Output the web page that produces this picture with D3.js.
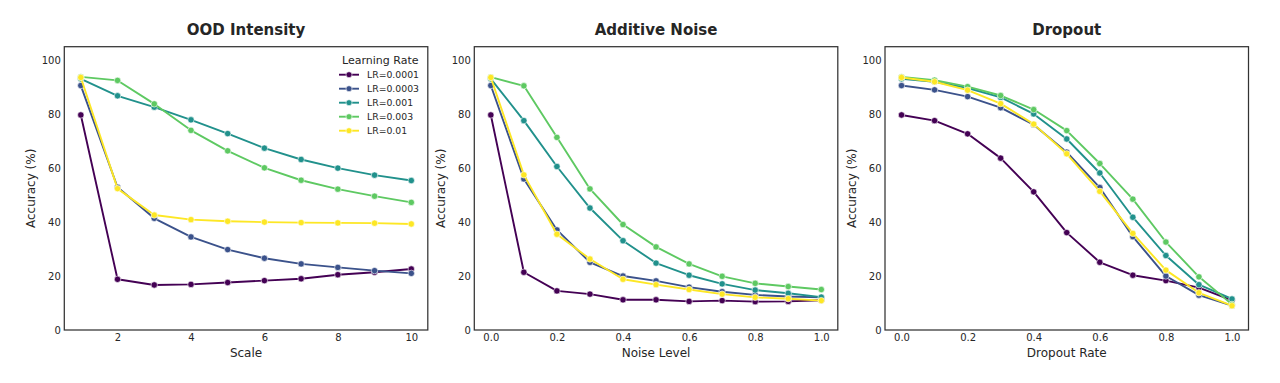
<!DOCTYPE html>
<html><head><meta charset="utf-8">
<script src="https://cdn.jsdelivr.net/npm/d3@7"></script>
<style>body{margin:0;background:#fff}svg{display:block;font-family:"DejaVu Sans",sans-serif}</style>
</head><body><svg id="c" width="1280" height="383"></svg>
<script>
const seriesLabels = ["LR=0.0001","LR=0.0003","LR=0.001","LR=0.003","LR=0.01"];
const seriesColors = ["#440154","#3b528b","#21918c","#5ec962","#fde725"];

const scaleX = [1,2,3,4,5,6,7,8,9,10];
const oodLR0001 = [79.7,18.8,16.7,16.9,17.6,18.3,19.0,20.5,21.4,22.6];
const oodLR0003 = [90.6,52.9,41.4,34.5,29.8,26.6,24.5,23.2,22.0,21.0];
const oodLR001  = [93.1,86.8,82.6,77.9,72.8,67.4,63.2,60.0,57.4,55.4];
const oodLR003  = [93.8,92.5,83.8,74.0,66.4,60.1,55.5,52.2,49.6,47.3];
const oodLR01   = [93.6,52.4,42.6,40.9,40.3,40.0,39.8,39.7,39.6,39.3];

const noiseX = [0.0,0.1,0.2,0.3,0.4,0.5,0.6,0.7,0.8,0.9,1.0];
const noiseLR0001 = [79.7,21.4,14.5,13.3,11.2,11.2,10.6,10.9,10.5,10.6,11.0];
const noiseLR0003 = [90.6,56.0,37.1,25.1,20.0,18.2,15.9,14.2,13.0,12.4,12.1];
const noiseLR001  = [93.1,77.6,60.6,45.2,33.1,24.8,20.3,17.1,14.8,13.6,12.2];
const noiseLR003  = [93.7,90.5,71.4,52.3,39.1,30.8,24.5,19.9,17.3,16.1,15.0];
const noiseLR01   = [93.6,57.5,35.5,26.3,18.8,16.8,15.0,13.3,12.1,11.6,10.9];

const dropX = [0.0,0.1,0.2,0.3,0.4,0.5,0.6,0.7,0.8,0.9,1.0];
const dropLR0001 = [79.7,77.6,72.7,63.7,51.2,36.1,25.1,20.3,18.3,15.7,11.0];
const dropLR0003 = [90.6,89.0,86.5,82.4,76.1,65.9,52.8,34.6,20.0,12.9,9.0];
const dropLR001  = [93.1,92.0,89.7,86.2,80.1,70.8,58.2,41.8,27.6,16.8,11.5];
const dropLR003  = [93.8,92.6,90.2,86.9,81.7,73.9,61.7,48.5,32.6,19.7,9.5];
const dropLR01   = [93.6,92.0,88.9,83.9,76.3,65.3,51.4,35.8,22.2,13.8,9.0];

const yTicks = [0,20,40,60,80,100];
const scaleTicks = [2,4,6,8,10];
const rateTicks = [0.0,0.2,0.4,0.6,0.8,1.0];

const panels = [
  {title:"OOD Intensity", xlabel:"Scale", x:scaleX, ys:[oodLR0001,oodLR0003,oodLR001,oodLR003,oodLR01], ticks:scaleTicks, fmt:d=>String(d), left:64.3, legend:true},
  {title:"Additive Noise", xlabel:"Noise Level", x:noiseX, ys:[noiseLR0001,noiseLR0003,noiseLR001,noiseLR003,noiseLR01], ticks:rateTicks, fmt:d3.format(".1f"), left:474.3, legend:false},
  {title:"Dropout", xlabel:"Dropout Rate", x:dropX, ys:[dropLR0001,dropLR0003,dropLR001,dropLR003,dropLR01], ticks:rateTicks, fmt:d3.format(".1f"), left:885, legend:false}
];

const svg = d3.select("#c");
const W = 363.5, plotTop = 46.7, plotBottom = 330;
const txt = "#262626";

panels.forEach(p => {
  const ext = d3.extent(p.x), pad = (ext[1]-ext[0])*0.05;
  const x = d3.scaleLinear().domain([ext[0]-pad, ext[1]+pad]).range([p.left, p.left+W]);
  const y = d3.scaleLinear().domain([0,105]).range([plotBottom, plotTop]);
  const g = svg.append("g");

  const ya = g.append("g").attr("transform",`translate(${p.left},0)`)
    .call(d3.axisLeft(y).tickValues(yTicks).tickSize(0).tickPadding(3.5));
  ya.select(".domain").remove();
  ya.selectAll("text").attr("font-size",10).attr("fill",txt).attr("font-family","DejaVu Sans");

  const xa = g.append("g").attr("transform",`translate(0,${plotBottom})`)
    .call(d3.axisBottom(x).tickValues(p.ticks).tickFormat(p.fmt).tickSize(0).tickPadding(3.5));
  xa.select(".domain").remove();
  xa.selectAll("text").attr("font-size",10).attr("fill",txt).attr("font-family","DejaVu Sans");

  const line = d3.line().x((d,i)=>x(p.x[i])).y(d=>y(d));
  p.ys.forEach((vals, si) => {
    g.append("path").datum(vals).attr("d", line).attr("fill","none")
      .attr("stroke", seriesColors[si]).attr("stroke-width",1.9).attr("stroke-linejoin","round");
    g.selectAll(null).data(vals).enter().append("circle")
      .attr("cx",(d,i)=>x(p.x[i])).attr("cy",d=>y(d)).attr("r",3.2)
      .attr("fill",seriesColors[si]).attr("stroke","#fff").attr("stroke-width",0.6);
  });

  g.append("rect").attr("x",p.left).attr("y",plotTop).attr("width",W).attr("height",plotBottom-plotTop)
    .attr("fill","none").attr("stroke","#333").attr("stroke-width",1.25);

  g.append("text").attr("x",p.left+W/2).attr("y",35).attr("text-anchor","middle")
    .attr("font-size",15).attr("font-weight","bold").attr("fill",txt).text(p.title);
  g.append("text").attr("x",p.left+W/2).attr("y",357).attr("text-anchor","middle")
    .attr("font-size",12).attr("fill",txt).text(p.xlabel);
  g.append("text").attr("transform",`translate(${p.left-33.3},${(plotTop+plotBottom)/2}) rotate(-90)`)
    .attr("dy","0.35em").attr("text-anchor","middle").attr("font-size",12).attr("fill",txt).text("Accuracy (%)");

  if (p.legend) {
    const lg = g.append("g");
    lg.append("text").attr("x",418.5).attr("y",64).attr("text-anchor","end")
      .attr("font-size",11).attr("fill",txt).text("Learning Rate");
    seriesLabels.forEach((lab, si) => {
      const yy = 74.7 + si*14;
      lg.append("line").attr("x1",339).attr("x2",359).attr("y1",yy).attr("y2",yy)
        .attr("stroke",seriesColors[si]).attr("stroke-width",1.9);
      lg.append("circle").attr("cx",349).attr("cy",yy).attr("r",3)
        .attr("fill",seriesColors[si]).attr("stroke","#fff").attr("stroke-width",0.6);
      lg.append("text").attr("x",367).attr("y",yy).attr("dy","0.35em")
        .attr("font-size",9.3).attr("fill",txt).text(lab);
    });
  }
});
</script></body></html>
